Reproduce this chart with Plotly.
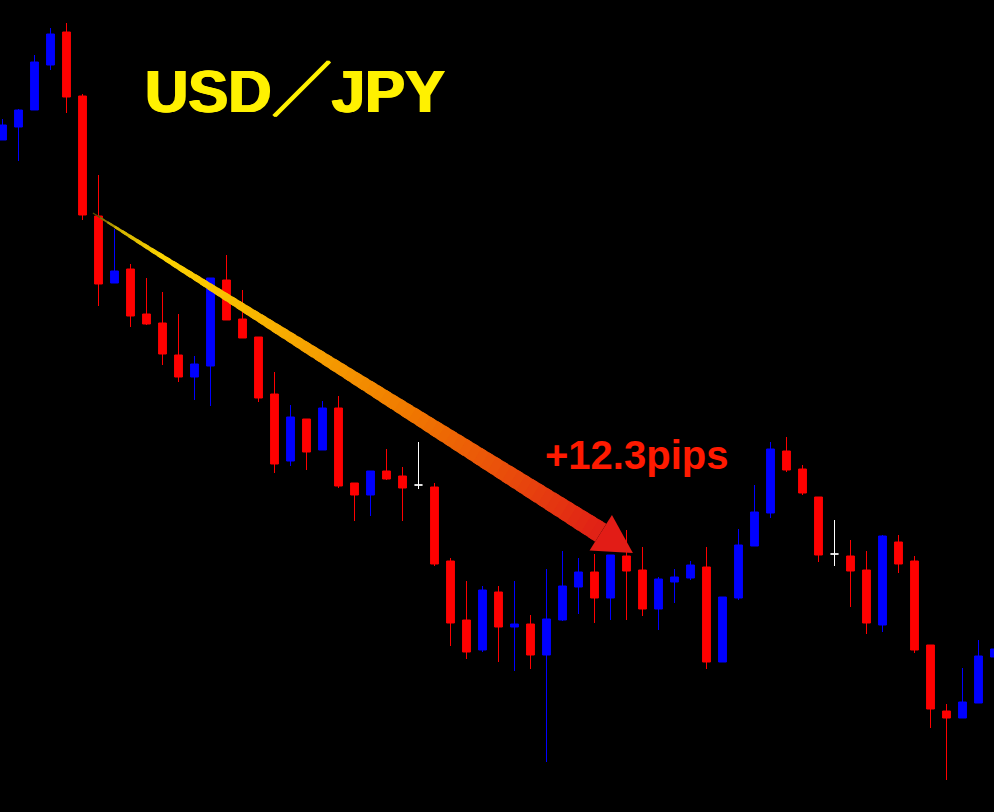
import math
import plotly.graph_objects as go

# one candle per index, left to right (price scale is arbitrary: no axis shown)
bar_open = [672, 685, 702, 747, 780, 716, 596, 529, 543, 498,
            489, 457, 435, 446, 532, 493, 475, 418, 351, 393,
            362, 404, 329, 317, 341, 336, 327, 325, 251, 192,
            162, 220, 185, 188, 157, 192, 225, 240, 214, 256,
            242, 203, 230, 234, 245, 150, 214, 266, 299, 361,
            343, 315, 258, 256, 242, 187, 270, 251, 167, 101,
            94, 109, 155]
bar_high = [693, 703, 757, 784, 789, 718, 637, 583, 548, 534,
            520, 498, 456, 534, 557, 522, 475, 440, 407, 393,
            411, 416, 329, 341, 363, 345, 370, 329, 254, 231,
            226, 226, 231, 197, 243, 261, 254, 258, 257, 282,
            265, 235, 243, 251, 265, 215, 283, 327, 370, 375,
            347, 315, 292, 272, 261, 277, 277, 256, 167, 108,
            144, 172, 165]
bar_low = [672, 651, 702, 742, 699, 592, 506, 529, 485, 487,
           447, 430, 412, 406, 492, 474, 410, 339, 346, 342,
           362, 324, 291, 296, 332, 291, 323, 246, 166, 153,
           160, 150, 141, 143, 50, 191, 198, 189, 192, 192,
           196, 182, 209, 232, 143, 150, 212, 266, 294, 340,
           317, 250, 246, 205, 178, 180, 239, 159, 84, 32,
           94, 109, 155]
bar_close = [687, 702, 750, 778, 715, 597, 528, 541, 496, 488,
             458, 435, 448, 534, 492, 474, 414, 348, 395, 360,
             404, 326, 317, 341, 333, 324, 327, 248, 189, 160,
             222, 185, 188, 157, 193, 226, 240, 214, 257, 241,
             203, 233, 235, 247, 150, 215, 267, 300, 363, 342,
             319, 257, 258, 241, 189, 276, 248, 162, 103, 94,
             110, 156, 163]
doji_bars = [26, 52]   # drawn white

title_text = "USD／JPY"
gain_text = "+12.3pips"
arrow_from = (5.65, 599)    # (bar index, price)
arrow_to = (39.4, 259)

W, H = 994, 812
X_RANGE = [-2.5 / 16, (W - 2.5) / 16]
Y_RANGE = [0, 812]
sx = W / (X_RANGE[1] - X_RANGE[0])
sy = H / (Y_RANGE[1] - Y_RANGE[0])


def to_px(x, y):
    return ((x - X_RANGE[0]) * sx, (Y_RANGE[1] - y) * sy)


def to_data(px, py):
    return (px / sx + X_RANGE[0], Y_RANGE[1] - py / sy)


idx = list(range(len(bar_open)))
main = [i for i in idx if i not in doji_bars]

fig = go.Figure()
fig.add_trace(go.Candlestick(
    x=main,
    open=[bar_open[i] for i in main], high=[bar_high[i] for i in main],
    low=[bar_low[i] for i in main], close=[bar_close[i] for i in main],
    increasing=dict(line=dict(color="#0000ff", width=1), fillcolor="#0000ff"),
    decreasing=dict(line=dict(color="#ff0000", width=1), fillcolor="#ff0000"),
    hoverinfo="skip",
))
fig.add_trace(go.Candlestick(
    x=doji_bars,
    open=[bar_open[i] for i in doji_bars], high=[bar_high[i] for i in doji_bars],
    low=[bar_low[i] for i in doji_bars], close=[bar_close[i] for i in doji_bars],
    increasing=dict(line=dict(color="#ffffff", width=1), fillcolor="#ffffff"),
    decreasing=dict(line=dict(color="#ffffff", width=1), fillcolor="#ffffff"),
    hoverinfo="skip",
))

# gradient arrow, built in pixel space then mapped back to data
stops = [(0.0, (60, 52, 0)), (0.05, (205, 175, 0)), (0.14, (252, 212, 0)),
         (0.38, (247, 172, 0)), (0.62, (240, 122, 0)), (0.84, (232, 72, 12)),
         (1.0, (224, 32, 22))]


def grad(t):
    for (t0, c0), (t1, c1) in zip(stops, stops[1:]):
        if t <= t1:
            f = (t - t0) / (t1 - t0)
            return "rgb(%d,%d,%d)" % tuple(round(a + (b - a) * f) for a, b in zip(c0, c1))
    return "rgb(%d,%d,%d)" % stops[-1][1]


p0 = to_px(*arrow_from)
p1 = to_px(*arrow_to)
L = math.hypot(p1[0] - p0[0], p1[1] - p0[1])
ux, uy = (p1[0] - p0[0]) / L, (p1[1] - p0[1]) / L
nx, ny = -uy, ux
head_len, head_half = 38, 21
shaft_len = L - head_len
w0, w1 = 1.0, 21.0
shapes = []
n = 70


def path(pts):
    d = [to_data(*p) for p in pts]
    return "M " + " L ".join("%.4f,%.2f" % q for q in d) + " Z"


for k in range(n):
    a, b = k / n, min(1.0, (k + 1.6) / n)
    ca = (p0[0] + ux * shaft_len * a, p0[1] + uy * shaft_len * a)
    cb = (p0[0] + ux * shaft_len * b, p0[1] + uy * shaft_len * b)
    wa = (w0 + (w1 - w0) * a ** 0.85) / 2
    wb = (w0 + (w1 - w0) * b ** 0.85) / 2
    pts = [(ca[0] + nx * wa, ca[1] + ny * wa), (cb[0] + nx * wb, cb[1] + ny * wb),
           (cb[0] - nx * wb, cb[1] - ny * wb), (ca[0] - nx * wa, ca[1] - ny * wa)]
    shapes.append(dict(type="path", path=path(pts), xref="x", yref="y",
                       fillcolor=grad((a + b) / 2), line=dict(width=0)))

base = (p1[0] - ux * head_len, p1[1] - uy * head_len)
head = [(base[0] + nx * head_half, base[1] + ny * head_half), p1,
        (base[0] - nx * head_half, base[1] - ny * head_half)]
shapes.append(dict(type="path", path=path(head), xref="x", yref="y",
                   fillcolor="rgb(226,28,22)", line=dict(width=0)))

# slight thickening (the CJK slash has no bold face here)
title_shadow = "1px 0 0 #fff100, 2px 0 0 #fff100"

fig.update_layout(
    width=W, height=H,
    margin=dict(l=0, r=0, t=0, b=0),
    paper_bgcolor="#000000",
    plot_bgcolor="#000000",
    showlegend=False,
    shapes=shapes,
    xaxis=dict(range=X_RANGE, visible=False, rangeslider=dict(visible=False), fixedrange=True),
    yaxis=dict(range=Y_RANGE, visible=False, fixedrange=True),
    annotations=[
        dict(text=title_text, x=294 / W, y=1 - 92 / H, xref="paper", yref="paper",
             showarrow=False, xanchor="center", yanchor="middle",
             font=dict(family="Liberation Sans Narrow, Liberation Sans, Noto Sans CJK JP",
                       size=60, color="#fff100", weight="bold", shadow=title_shadow)),
        dict(text=gain_text, x=636 / W, y=1 - 455 / H, xref="paper", yref="paper",
             showarrow=False, xanchor="center", yanchor="middle",
             font=dict(family="Liberation Sans, Arial, sans-serif",
                       size=40, color="#ff1a00", weight="bold")),
    ],
)

fig.write_html("out.html", config=dict(displayModeBar=False),
               post_script="document.body.style.margin='0';"
                           "document.body.style.background='#000';")
